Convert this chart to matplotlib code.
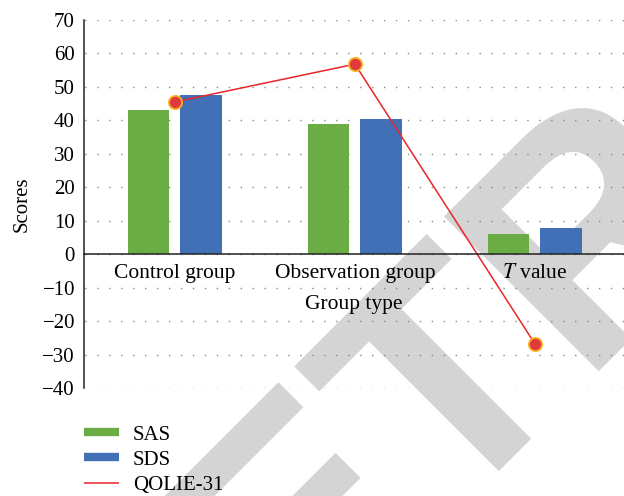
import matplotlib
matplotlib.use("Agg")
import matplotlib.pyplot as plt
from matplotlib.lines import Line2D
from matplotlib.textpath import TextPath
from matplotlib.patches import PathPatch
from matplotlib.font_manager import FontProperties
from matplotlib.transforms import Affine2D
import numpy as np

categories = ["Control group", "Observation group", "$T$ value"]
sas = [43.1, 38.9, 6.0]
sds = [47.6, 40.4, 7.8]
qolie = [45.5, 56.8, -26.8]
yticks = [-40, -30, -20, -10, 0, 10, 20, 30, 40, 50, 60, 70]

plt.rcParams["font.family"] = ["Liberation Serif", "DejaVu Serif"]
plt.rcParams["mathtext.fontset"] = "stix"
plt.rcParams["axes.unicode_minus"] = True

green = "#6cac44"
blue = "#4170b7"
red = "#e8262c"

W, H = 624, 496
fig = plt.figure(figsize=(W/100, H/100), dpi=100)
ax = fig.add_axes([84/W, 1-388/H, 540/W, 368/H])
ax.set_facecolor("none")

# watermark (drawn in pixel coordinates, behind the chart)
tp = TextPath((0, 0), "RETRACTED", size=318,
              prop=FontProperties(family="Liberation Sans", weight="bold"))
wm = PathPatch(tp, facecolor="#d4d4d4", edgecolor="none", zorder=-10,
               transform=Affine2D().rotate_deg(45).translate(134, H - 836))
fig.add_artist(wm)

x = np.arange(len(categories))
w = 0.228
off = 0.145
ax.bar(x - off, sas, width=w, color=green, zorder=3, label="SAS")
ax.bar(x + off, sds, width=w, color=blue, zorder=3, label="SDS")
ax.plot(x, qolie, color=red, lw=1.1, zorder=4, marker="o", markersize=9.5,
        markerfacecolor="#e03a3c", markeredgecolor="#f7b21e", markeredgewidth=1.3)

ax.set_xlim(-0.505, 2.495)
ax.set_ylim(-40, 70)
ax.set_yticks(yticks)
ax.set_xticks(x)
ax.set_xticklabels(categories)
ax.tick_params(axis="y", labelsize=15, length=0, pad=6.5)
ax.tick_params(axis="x", labelsize=15.5, length=0, pad=7)

for s in ["top", "right"]:
    ax.spines[s].set_visible(False)
ax.spines["bottom"].set_position(("data", 0))
ax.spines["bottom"].set_linewidth(1.1)
ax.spines["bottom"].set_color("#222222")
ax.spines["bottom"].set_zorder(5)
ax.spines["left"].set_linewidth(1.1)
ax.spines["left"].set_color("#222222")

ax.yaxis.grid(True, color="#888888", linestyle=(8, (1.0, 7.6)), linewidth=1.0, zorder=1)
ax.set_axisbelow(True)

ax.set_xlabel("Group type", fontsize=15.5, labelpad=9)
ax.set_ylabel("Scores", fontsize=15, labelpad=8)

handles = [Line2D([0], [0], color=green, lw=6, solid_capstyle="butt"),
           Line2D([0], [0], color=blue, lw=6, solid_capstyle="butt"),
           Line2D([0], [0], color=red, lw=1.1, solid_capstyle="butt")]
fig.legend(handles, ["SAS", "SDS", "QOLIE-31"], loc="upper left",
           bbox_to_anchor=(84/W, 1-425/H), frameon=False, fontsize=15,
           handlelength=1.7, handletextpad=0.65, labelspacing=0.27,
           borderpad=0, borderaxespad=0)

fig.savefig("out.png", dpi=100)
